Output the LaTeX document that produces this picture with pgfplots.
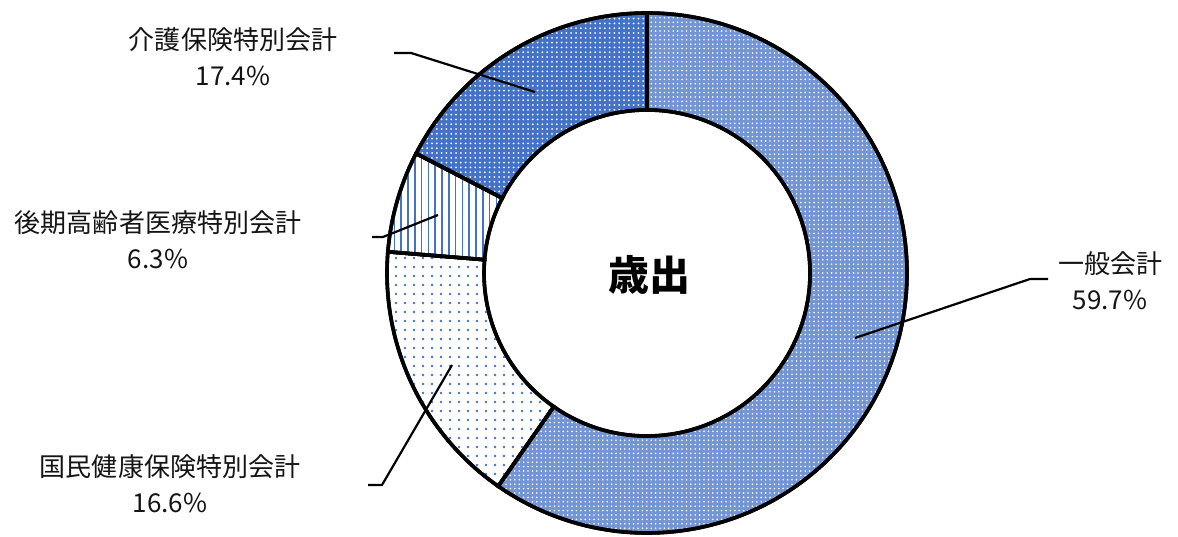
\documentclass[border=0pt]{standalone}
\usepackage{pgfplots}
\pgfplotsset{compat=1.18}
\usepackage{pgfplotstable}
\usetikzlibrary{patterns.meta}
\usepackage{fontspec}
\setmainfont{Noto Sans CJK JP}

\definecolor{xlblue}{HTML}{4472C4}

% share of each account (%), clockwise from the top
\pgfplotstableread{
account share
ippan   59.7
kokumin 16.6
kouki   6.3
kaigo   17.4
}\spending

\begin{document}
\begin{tikzpicture}
\pgfplotstablegetelem{0}{share}\of\spending \let\sA\pgfplotsretval
\pgfplotstablegetelem{1}{share}\of\spending \let\sB\pgfplotsretval
\pgfplotstablegetelem{2}{share}\of\spending \let\sC\pgfplotsretval
\pgfplotstablegetelem{3}{share}\of\spending \let\sD\pgfplotsretval
\pgfmathsetmacro\aA{90}
\pgfmathsetmacro\aB{\aA-3.6*\sA}
\pgfmathsetmacro\aC{\aB-3.6*\sB}
\pgfmathsetmacro\aD{\aC-3.6*\sC}
\pgfmathsetmacro\aE{\aD-3.6*\sD}
% ring segment: #1 start angle, #2 end angle, #3 style
\newcommand\segment[3]{%
  \path[#3, draw=black, line width=1.8bp]
    (axis cs:647,264) ++(#1:130bp) arc[start angle=#1, end angle=#2, radius=130bp]
    -- ++(#2:-48.5bp) arc[start angle=#2, end angle=#1, radius=81.5bp] -- cycle;}
\begin{axis}[
    x=0.5bp, y=0.5bp,
    xmin=0, xmax=1178, ymin=0, ymax=537,
    hide axis, clip=false,
    ]
    \path (axis cs:0,0) rectangle (axis cs:1178,537);

    \segment{\aA}{\aB}{preaction={fill=xlblue!75!white}, pattern={Dots[distance=2.2bp, radius=0.45bp]}, pattern color=white}
    \segment{\aB}{\aC}{fill=white, postaction={pattern={Dots[distance=4.5bp, radius=0.7bp]}, pattern color=xlblue}}
    \segment{\aC}{\aD}{fill=white, postaction={pattern={Lines[angle=90, distance=3.4bp, line width=0.8bp]}, pattern color=xlblue}}
    \segment{\aD}{\aE}{preaction={fill=xlblue}, pattern={Dots[distance=2.4bp, radius=0.5bp]}, pattern color=white}
    % redraw outlines on top
    \segment{\aA}{\aB}{}
    \segment{\aB}{\aC}{}
    \segment{\aC}{\aD}{}
    \segment{\aD}{\aE}{}

    \node[font=\fontsize{20.5bp}{24bp}\selectfont\bfseries] at (axis cs:649,262) {歳出};

    \draw[line width=1.1bp] (axis cs:855,199) -- (axis cs:1030,258) -- (axis cs:1048,258);
    \draw[line width=1.1bp] (axis cs:535,445) -- (axis cs:411,484) -- (axis cs:394,484);
    \draw[line width=1.1bp] (axis cs:438,322) -- (axis cs:383,300) -- (axis cs:372,300);
    \draw[line width=1.1bp] (axis cs:452,172) -- (axis cs:382,52) -- (axis cs:368,52);

    \tikzset{lab/.style={align=center, text=black!92, font=\fontsize{13bp}{18bp}\selectfont}}
    \node[lab] at (axis cs:1110,256) {一般会計\\59.7\%};
    \node[lab] at (axis cs:233,480) {介護保険特別会計\\17.4\%};
    \node[lab] at (axis cs:158,297) {後期高齢者医療特別会計\\6.3\%};
    \node[lab] at (axis cs:170,53) {国民健康保険特別会計\\16.6\%};
\end{axis}
\end{tikzpicture}
\end{document}
